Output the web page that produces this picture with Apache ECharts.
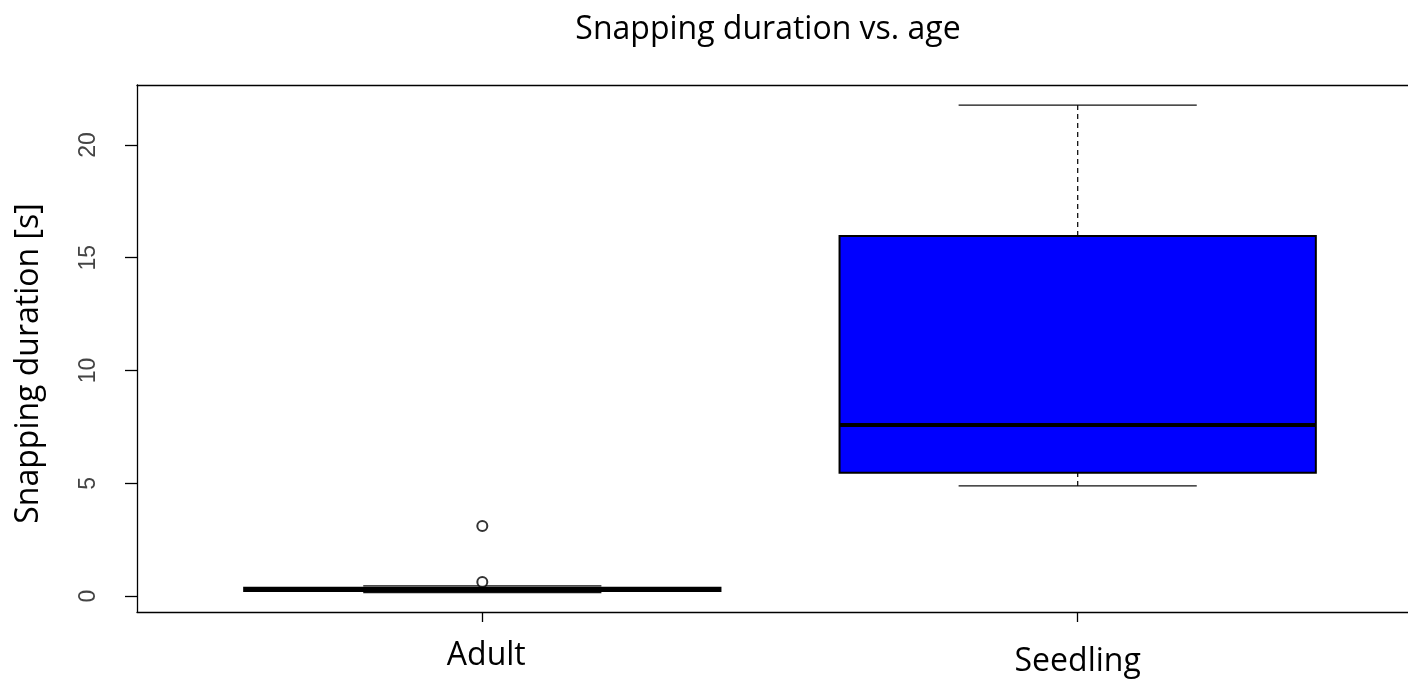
<!DOCTYPE html>
<html>
<head>
<meta charset="utf-8">
<script src="https://cdn.jsdelivr.net/npm/echarts@6/dist/echarts.min.js"></script>
<style>html,body{margin:0;padding:0;background:#fff}#c{width:1408px;height:684px}</style>
</head>
<body>
<div id="c"></div>
<script>
// ---- data ----
const categories = ['Adult', 'Seedling'];
const positions = [1, 2];
const whiskerLow = [0.15, 4.88];
const q1 = [0.22, 5.47];
const median = [0.28, 7.58];
const q3 = [0.36, 15.96];
const whiskerHigh = [0.45, 21.77];
const boxFill = ['#ffffff', '#0000ff'];
const outliers = [[1, 3.1], [1, 0.62]];
const yTicks = [0, 5, 10, 15, 20];

const boxData = positions.map((p, i) => [p, whiskerLow[i], q1[i], median[i], q3[i], whiskerHigh[i], i]);

const chart = echarts.init(document.getElementById('c'));
const BOXW = 0.8, CAPW = 0.4;

function renderBox(params, api) {
  const x = api.value(0), lo = api.value(1), a = api.value(2), m = api.value(3), b = api.value(4), hi = api.value(5);
  const idx = api.value(6);
  const pL = api.coord([x - BOXW / 2, b]);
  const pR = api.coord([x + BOXW / 2, a]);
  const cL = api.coord([x - CAPW / 2, lo])[0];
  const cR = api.coord([x + CAPW / 2, lo])[0];
  const cx = api.coord([x, 0])[0];
  const yLo = api.coord([x, lo])[1], yHi = api.coord([x, hi])[1];
  const yA = api.coord([x, a])[1], yB = api.coord([x, b])[1], yM = api.coord([x, m])[1];
  const line = { stroke: '#111', lineWidth: 1.3 };
  return {
    type: 'group',
    children: [
      { type: 'line', shape: { x1: cx, y1: yHi, x2: cx, y2: yB }, style: Object.assign({ lineDash: [5, 4] }, line) },
      { type: 'line', shape: { x1: cx, y1: yLo, x2: cx, y2: yA }, style: Object.assign({ lineDash: [5, 4] }, line) },
      { type: 'line', shape: { x1: cL, y1: yHi, x2: cR, y2: yHi }, style: line },
      { type: 'line', shape: { x1: cL, y1: yLo, x2: cR, y2: yLo }, style: line },
      { type: 'rect', shape: { x: pL[0], y: pL[1], width: pR[0] - pL[0], height: pR[1] - pL[1] },
        style: { fill: boxFill[idx], stroke: '#000', lineWidth: 2 } },
      { type: 'line', shape: { x1: pL[0], y1: yM, x2: pR[0], y2: yM }, style: { stroke: '#000', lineWidth: 4 } }
    ]
  };
}

chart.setOption({
  animation: false,
  backgroundColor: '#fff',
  title: {
    text: 'Snapping duration vs. age',
    left: 763, top: 9, textAlign: 'center',
    textStyle: { fontFamily: 'Open Sans', fontSize: 32, fontWeight: 'normal', color: '#000' }
  },
  grid: { left: 137, top: 85, width: 1286, height: 527, outerBoundsMode: 'none', containLabel: false, show: false },
  xAxis: [{
    type: 'value', min: 0.42, max: 2.58,
    splitLine: { show: false },
    axisLine: { show: true, onZero: false, lineStyle: { color: '#000', width: 1.3 } },
    axisTick: { show: true, customValues: positions, length: 10, lineStyle: { color: '#000', width: 1.3 } },
    axisLabel: {
      customValues: positions, margin: 28,
      formatter: v => {
        const i = positions.indexOf(Math.round(v));
        return i < 0 ? '' : '{c' + i + '|' + categories[i] + '}';
      },
      rich: {
        c0: { fontFamily: 'Open Sans', fontSize: 32, color: '#000', padding: [0, 0, 0, 8] },
        c1: { fontFamily: 'Open Sans', fontSize: 32, color: '#000', padding: [6, 0, 0, 0] }
      }
    }
  }, {
    type: 'value', min: 0.42, max: 2.58, position: 'top',
    splitLine: { show: false }, axisTick: { show: false }, axisLabel: { show: false },
    axisLine: { show: true, onZero: false, lineStyle: { color: '#000', width: 1.3 } }
  }],
  yAxis: {
    type: 'value', min: -0.71, max: 22.66,
    name: 'Snapping duration [s]', nameLocation: 'middle', nameGap: 92, nameRotate: 90,
    nameTextStyle: { fontFamily: 'Open Sans', fontSize: 32, color: '#000', padding: [0, 30, 0, 0] },
    splitLine: { show: false },
    axisLine: { show: true, onZero: false, lineStyle: { color: '#000', width: 1.3 } },
    axisTick: { show: true, customValues: yTicks, length: 12, lineStyle: { color: '#000', width: 1.3 } },
    axisLabel: {
      customValues: yTicks, rotate: 90, margin: 37,
      fontFamily: 'Liberation Sans', fontSize: 23, color: '#444'
    }
  },
  series: [
    { type: 'custom', renderItem: renderBox, data: boxData, encode: { x: 0, y: [1, 5] }, clip: false },
    { type: 'scatter', data: outliers, symbol: 'emptyCircle', symbolSize: 10,
      itemStyle: { color: '#000', borderColor: '#000', borderWidth: 1.3 } }
  ]
});
</script>
</body>
</html>
